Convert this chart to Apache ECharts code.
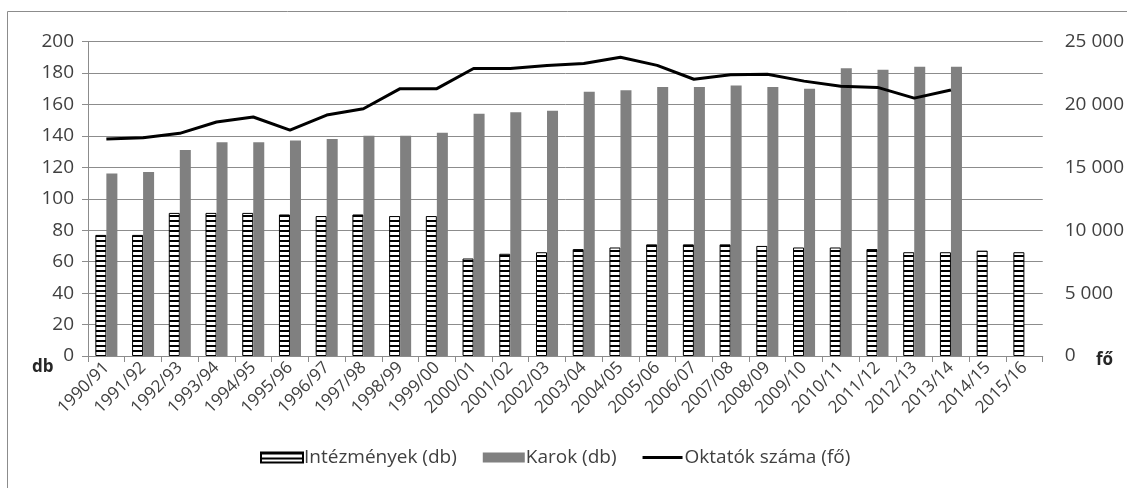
<!DOCTYPE html>
<html lang="hu">
<head>
    <meta charset="UTF-8">
    <title>Felsőoktatás</title>
    <style>
        html, body { margin: 0; padding: 0; background: #fff; }
    </style>
</head>
<body>
<div id="main" style="width: 1127px;height: 488px"></div>
<script src="https://cdn.jsdelivr.net/npm/echarts@6/dist/echarts.min.js"></script>
<script>
    // tanévek
    var years = ['1990/91', '1991/92', '1992/93', '1993/94', '1994/95', '1995/96', '1996/97',
        '1997/98', '1998/99', '1999/00', '2000/01', '2001/02', '2002/03', '2003/04', '2004/05',
        '2005/06', '2006/07', '2007/08', '2008/09', '2009/10', '2010/11', '2011/12', '2012/13',
        '2013/14', '2014/15', '2015/16'];

    var intezmenyek = [77, 77, 91, 91, 91, 90, 89, 90, 89, 89, 62, 65, 66, 68, 69,
        71, 71, 71, 70, 69, 69, 68, 66, 66, 67, 66];

    var karok = [116, 117, 131, 136, 136, 137, 138, 140, 140, 142, 154, 155, 156, 168, 169,
        171, 171, 172, 171, 170, 183, 182, 184, 184, null, null];

    var oktatok = [17250, 17350, 17700, 18600, 19000, 17950, 19150, 19650, 21250, 21250,
        22850, 22850, 23100, 23250, 23750, 23100, 22000, 22350, 22400, 21850,
        21450, 21350, 20500, 21150, null, null];

    var leftTicks = {min: 0, max: 200, interval: 20};
    var rightTicks = {min: 0, max: 25000, interval: 5000};

    // csíkos minta az intézmények oszlopaihoz
    var stripe = document.createElement('canvas');
    stripe.width = 6;
    stripe.height = 5;
    var ctx = stripe.getContext('2d');
    ctx.fillStyle = '#ffffff';
    ctx.fillRect(0, 0, 6, 5);
    ctx.fillStyle = '#000000';
    ctx.fillRect(0, 0, 6, 2);

    var font = 'Open Sans';
    var myChart = echarts.init(document.getElementById('main'));

    var option = {
        animation: false,
        textStyle: {fontFamily: font},
        graphic: [
            {
                type: 'rect',
                shape: {x: 7.5, y: 11.5, width: 1300, height: 600},
                style: {fill: 'none', stroke: '#8c8c8c', lineWidth: 1},
                silent: true
            },
            {
                type: 'text', left: 32, top: 359,
                style: {text: 'db', font: 'bold 17px "Open Sans"', fill: '#262626'}
            },
            {
                type: 'text', left: 1096, top: 352,
                style: {text: 'fő', font: 'bold 17px "Open Sans"', fill: '#262626'}
            }
        ],
        grid: {
            left: 88,
            right: 84,
            top: 41.5,
            bottom: 132
        },
        legend: {
            left: 255,
            top: 443,
            itemWidth: 42,
            itemHeight: 10,
            itemGap: 26,
            textStyle: {fontSize: 19, color: '#404040', fontFamily: font, padding: [0, 0, 0, -4]},
            data: [
                {name: 'Intézmények (db)', icon: 'rect'},
                {name: 'Karok (db)', icon: 'rect'},
                {name: 'Oktatók száma (fő)', icon: 'path://M0,0 M40,10 M0,3.5 L40,3.5 L40,6.5 L0,6.5 Z'}
            ]
        },
        xAxis: {
            type: 'category',
            data: years,
            axisLine: {lineStyle: {color: '#8c8c8c', width: 1}},
            axisTick: {show: true, length: 6, lineStyle: {color: '#8c8c8c'}},
            axisLabel: {
                rotate: 45,
                margin: 9,
                interval: 0,
                fontSize: 17,
                color: '#404040',
                fontFamily: font
            }
        },
        yAxis: [
            {
                type: 'value',
                min: leftTicks.min,
                max: leftTicks.max,
                interval: leftTicks.interval,
                axisLine: {show: true, lineStyle: {color: '#8c8c8c'}},
                axisTick: {show: true, length: 6, lineStyle: {color: '#8c8c8c'}},
                splitLine: {lineStyle: {color: '#8c8c8c', width: 1}},
                axisLabel: {margin: 14, fontSize: 19, color: '#404040', fontFamily: font}
            },
            {
                type: 'value',
                min: rightTicks.min,
                max: rightTicks.max,
                interval: rightTicks.interval,
                axisLine: {show: false},
                axisTick: {show: false},
                splitLine: {show: false},
                axisLabel: {
                    margin: 22,
                    fontSize: 19,
                    color: '#404040',
                    fontFamily: font,
                    formatter: function (v) {
                        return String(v).replace(/\B(?=(\d{3})+(?!\d))/g, ' ');
                    }
                }
            }
        ],
        series: [
            {
                name: 'Intézmények (db)',
                type: 'bar',
                yAxisIndex: 0,
                barWidth: '30%',
                barGap: '0%',
                itemStyle: {
                    color: {image: stripe, repeat: 'repeat'},
                    borderColor: '#000000',
                    borderWidth: 1
                },
                data: intezmenyek
            },
            {
                name: 'Karok (db)',
                type: 'bar',
                yAxisIndex: 0,
                barWidth: '30%',
                barGap: '0%',
                itemStyle: {color: '#808080'},
                data: karok
            },
            {
                name: 'Oktatók száma (fő)',
                type: 'line',
                yAxisIndex: 1,
                symbol: 'none',
                lineStyle: {color: '#000000', width: 3},
                itemStyle: {color: '#000000'},
                data: oktatok
            }
        ]
    };

    myChart.setOption(option);
</script>
</body>
</html>
